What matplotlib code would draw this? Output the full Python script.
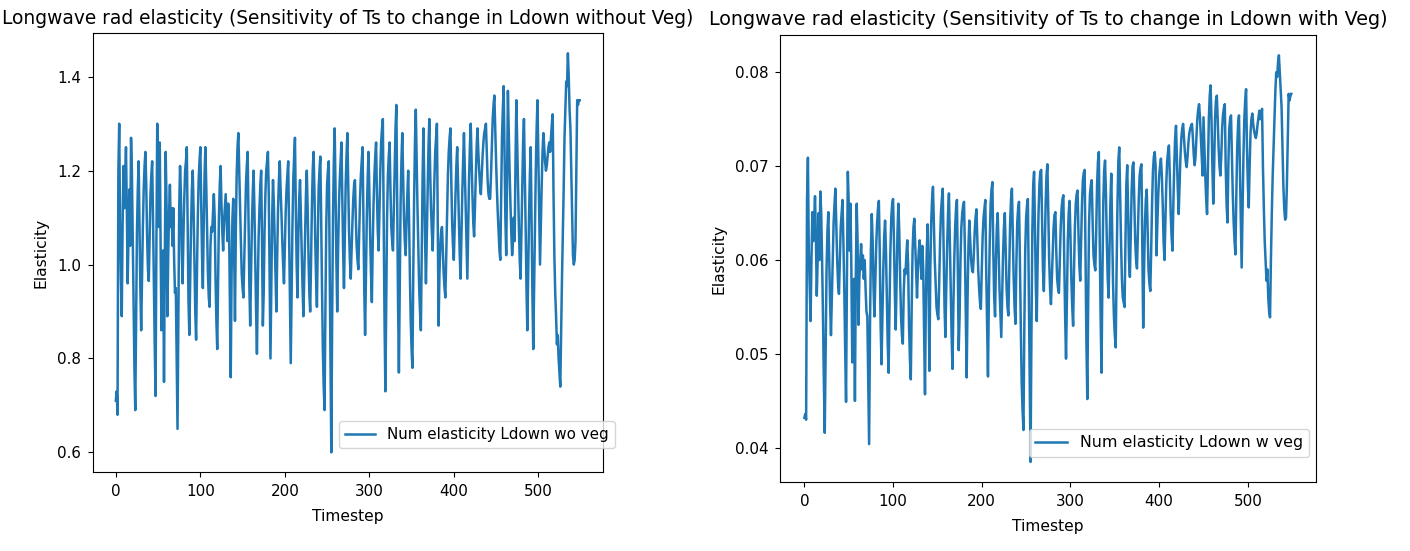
#!/usr/bin/env python3

"""
Longwave radiation elasticity of surface temperature (Ts) with respect to
downwelling longwave (Ldown), with and without vegetation.
"""

import numpy as np
from matplotlib import pyplot as plt

# numerical elasticity, no vegetation (one value per timestep)
elasticity_wo_veg = [
    0.71, 0.73, 0.68, 1.20, 1.30, 1.09, 0.97, 0.89, 1.08, 1.21,
    1.12, 1.18, 1.25, 1.12, 0.96, 1.06, 1.16, 1.04, 1.27, 1.20,
    1.06, 0.92, 0.78, 0.69, 0.88, 1.07, 1.16, 1.22, 1.08, 0.95,
    0.86, 0.97, 1.08, 1.16, 1.21, 1.24, 1.17, 1.06, 0.99, 0.965,
    1.06, 1.15, 1.19, 1.22, 1.10, 0.96, 0.83, 0.72, 1.04, 1.30,
    1.21, 1.08, 1.26, 1.04, 0.86, 0.95, 1.03, 0.75, 1.02, 1.24,
    1.13, 0.89, 1.02, 1.11, 1.17, 1.08, 1.12, 1.04, 1.12, 1.01,
    0.94, 0.95, 0.80, 0.65, 0.90, 1.12, 1.21, 1.15, 1.03, 0.96,
    1.06, 1.14, 1.20, 1.22, 1.25, 1.09, 0.92, 0.85, 0.97, 1.08,
    1.16, 1.20, 1.12, 1.01, 0.90, 0.84, 0.98, 1.10, 1.18, 1.22,
    1.25, 1.13, 1.02, 0.95, 1.08, 1.19, 1.25, 1.17, 1.07, 0.98,
    0.93, 0.91, 1.04, 1.08, 1.07, 1.11, 1.15, 1.10, 0.97, 0.88,
    0.82, 0.96, 1.10, 1.17, 1.21, 1.13, 1.07, 1.03, 1.09, 1.12,
    1.15, 1.10, 1.05, 1.13, 1.08, 0.92, 0.76, 0.98, 1.10, 1.14,
    1.03, 0.88, 1.07, 1.19, 1.25, 1.28, 1.20, 1.12, 1.05, 0.98,
    0.95, 0.93, 1.01, 1.10, 1.17, 1.21, 1.24, 1.10, 0.96, 0.87,
    0.98, 1.08, 1.15, 1.20, 1.12, 1.01, 0.90, 0.81, 0.95, 1.06,
    1.12, 1.17, 1.20, 1.05, 0.87, 0.94, 1.07, 1.15, 1.20, 1.22,
    1.24, 1.15, 0.98, 0.80, 0.96, 1.10, 1.18, 1.13, 1.05, 0.97,
    0.90, 1.02, 1.12, 1.18, 1.22, 1.16, 1.11, 1.05, 1.00, 0.96,
    1.04, 1.11, 1.16, 1.19, 1.22, 1.08, 0.93, 0.79, 0.93, 1.08,
    1.18, 1.23, 1.27, 1.12, 1.00, 0.93, 1.06, 1.14, 1.18, 1.10,
    1.03, 0.95, 0.89, 0.98, 1.08, 1.15, 1.20, 1.12, 1.02, 0.94,
    0.90, 1.00, 1.12, 1.20, 1.24, 1.16, 1.05, 0.97, 0.91, 1.05,
    1.16, 1.20, 1.23, 1.10, 0.95, 0.82, 0.74, 0.69, 0.90, 1.08,
    1.17, 1.20, 1.22, 1.02, 0.80, 0.60, 0.88, 1.10, 1.22, 1.29,
    1.16, 1.01, 0.90, 1.03, 1.12, 1.18, 1.22, 1.26, 1.14, 1.03,
    0.95, 1.06, 1.17, 1.23, 1.28, 1.18, 1.07, 1.01, 0.97, 1.03,
    1.09, 1.14, 1.17, 1.18, 1.10, 1.04, 1.01, 0.99, 1.07, 1.14,
    1.19, 1.22, 1.25, 1.10, 0.95, 0.85, 0.98, 1.10, 1.18, 1.24,
    1.16, 1.06, 0.98, 0.92, 1.04, 1.13, 1.19, 1.23, 1.26, 1.15,
    1.07, 1.03, 1.12, 1.20, 1.26, 1.29, 1.31, 1.08, 0.88, 0.73,
    0.92, 1.10, 1.19, 1.23, 1.26, 1.16, 1.08, 1.05, 1.03, 1.12,
    1.22, 1.29, 1.34, 1.12, 0.92, 0.77, 0.96, 1.13, 1.22, 1.28,
    1.19, 1.10, 1.05, 1.02, 1.09, 1.15, 1.20, 1.10, 0.98, 0.88,
    0.82, 0.78, 0.98, 1.14, 1.26, 1.33, 1.22, 1.12, 1.03, 0.95,
    0.90, 0.86, 1.02, 1.18, 1.29, 1.18, 1.05, 0.96, 1.06, 1.17,
    1.25, 1.31, 1.20, 1.12, 1.07, 1.03, 1.10, 1.18, 1.24, 1.27,
    1.30, 1.08, 0.87, 0.98, 1.04, 1.07, 1.08, 1.03, 0.98, 0.95,
    0.93, 1.02, 1.12, 1.19, 1.24, 1.27, 1.29, 1.18, 1.09, 1.04,
    1.01, 1.08, 1.15, 1.21, 1.25, 1.17, 1.09, 1.02, 0.97, 1.06,
    1.15, 1.22, 1.28, 1.20, 1.11, 1.03, 0.97, 1.08, 1.18, 1.25,
    1.30, 1.22, 1.15, 1.09, 1.06, 1.12, 1.19, 1.25, 1.29, 1.24,
    1.20, 1.17, 1.15, 1.19, 1.23, 1.26, 1.28, 1.29, 1.30, 1.24,
    1.18, 1.15, 1.14, 1.14, 1.19, 1.25, 1.31, 1.34, 1.36, 1.29,
    1.22, 1.16, 1.11, 1.07, 1.03, 1.01, 1.14, 1.27, 1.33, 1.38,
    1.24, 1.10, 1.02, 1.18, 1.37, 1.28, 1.20, 1.13, 1.07, 1.02,
    1.05, 1.10, 1.05, 1.22, 1.35, 1.26, 1.17, 1.08, 1.01, 0.97,
    1.07, 1.18, 1.26, 1.31, 1.20, 1.08, 0.95, 0.86, 0.98, 1.10,
    1.19, 1.25, 1.10, 0.94, 0.82, 0.95, 1.09, 1.20, 1.29, 1.35,
    1.23, 1.10, 1.00, 1.09, 1.17, 1.24, 1.28, 1.25, 1.22, 1.20,
    1.21, 1.23, 1.25, 1.26, 1.24, 1.27, 1.30, 1.32, 1.15, 1.02,
    0.94, 0.89, 0.83, 0.85, 0.80, 0.77, 0.74, 0.86, 0.97, 1.06,
    1.16, 1.27, 1.33, 1.39, 1.38, 1.45, 1.40, 1.33, 1.29, 1.20,
    1.10, 1.02, 1.00, 1.01, 1.05, 1.20, 1.35, 1.34, 1.35, 1.35,
]

# numerical elasticity, with vegetation
elasticity_w_veg = [
    0.0432, 0.0436, 0.0430, 0.0664, 0.0709, 0.0610, 0.0570, 0.0535, 0.0600, 0.0651,
    0.0620, 0.0640, 0.0668, 0.0625, 0.0562, 0.0600, 0.0650, 0.0600, 0.0673, 0.0650,
    0.0600, 0.0540, 0.0470, 0.0416, 0.0500, 0.0590, 0.0630, 0.0651, 0.0600, 0.0555,
    0.0520, 0.0560, 0.0605, 0.0640, 0.0660, 0.0676, 0.0640, 0.0600, 0.0575, 0.0564,
    0.0600, 0.0635, 0.0650, 0.0664, 0.0620, 0.0570, 0.0505, 0.0449, 0.0580, 0.0694,
    0.0660, 0.0610, 0.0660, 0.0590, 0.0491, 0.0540, 0.0580, 0.0450, 0.0580, 0.0660,
    0.0620, 0.0531, 0.0580, 0.0600, 0.0617, 0.0590, 0.0605, 0.0580, 0.0600, 0.0570,
    0.0545, 0.0540, 0.0470, 0.0404, 0.0530, 0.0610, 0.0649, 0.0620, 0.0570, 0.0540,
    0.0580, 0.0615, 0.0640, 0.0655, 0.0663, 0.0610, 0.0530, 0.0489, 0.0540, 0.0590,
    0.0625, 0.0642, 0.0610, 0.0560, 0.0510, 0.0480, 0.0550, 0.0610, 0.0645, 0.0660,
    0.0665, 0.0620, 0.0565, 0.0526, 0.0580, 0.0630, 0.0660, 0.0630, 0.0580, 0.0540,
    0.0520, 0.0511, 0.0565, 0.0590, 0.0585, 0.0605, 0.0621, 0.0595, 0.0530, 0.0495,
    0.0473, 0.0550, 0.0610, 0.0635, 0.0644, 0.0615, 0.0590, 0.0560, 0.0590, 0.0610,
    0.0621, 0.0600, 0.0580, 0.0615, 0.0590, 0.0520, 0.0457, 0.0560, 0.0610, 0.0638,
    0.0570, 0.0482, 0.0590, 0.0640, 0.0665, 0.0678, 0.0640, 0.0600, 0.0575, 0.0550,
    0.0542, 0.0537, 0.0575, 0.0620, 0.0650, 0.0665, 0.0676, 0.0610, 0.0550, 0.0518,
    0.0570, 0.0615, 0.0650, 0.0671, 0.0620, 0.0570, 0.0520, 0.0484, 0.0550, 0.0600,
    0.0635, 0.0655, 0.0664, 0.0590, 0.0504, 0.0540, 0.0600, 0.0635, 0.0650, 0.0658,
    0.0662, 0.0610, 0.0540, 0.0475, 0.0560, 0.0615, 0.0642, 0.0620, 0.0600, 0.0590,
    0.0587, 0.0605, 0.0630, 0.0645, 0.0654, 0.0620, 0.0590, 0.0570, 0.0555, 0.0548,
    0.0590, 0.0625, 0.0645, 0.0655, 0.0664, 0.0590, 0.0530, 0.0476, 0.0560, 0.0620,
    0.0660, 0.0675, 0.0683, 0.0610, 0.0560, 0.0540, 0.0600, 0.0635, 0.0650, 0.0610,
    0.0570, 0.0545, 0.0518, 0.0560, 0.0605, 0.0635, 0.0650, 0.0610, 0.0570, 0.0550,
    0.0541, 0.0590, 0.0640, 0.0665, 0.0676, 0.0630, 0.0580, 0.0550, 0.0532, 0.0595,
    0.0640, 0.0655, 0.0662, 0.0600, 0.0530, 0.0470, 0.0440, 0.0419, 0.0530, 0.0610,
    0.0645, 0.0658, 0.0665, 0.0570, 0.0470, 0.0385, 0.0520, 0.0630, 0.0680, 0.0694,
    0.0630, 0.0570, 0.0535, 0.0600, 0.0650, 0.0680, 0.0694, 0.0696, 0.0640, 0.0590,
    0.0567, 0.0610, 0.0660, 0.0690, 0.0702, 0.0650, 0.0600, 0.0570, 0.0553, 0.0580,
    0.0610, 0.0635, 0.0648, 0.0651, 0.0610, 0.0580, 0.0570, 0.0565, 0.0600, 0.0635,
    0.0655, 0.0665, 0.0669, 0.0600, 0.0540, 0.0495, 0.0560, 0.0620, 0.0650, 0.0663,
    0.0625, 0.0580, 0.0550, 0.0530, 0.0590, 0.0635, 0.0660, 0.0670, 0.0674, 0.0630,
    0.0595, 0.0578, 0.0620, 0.0660, 0.0685, 0.0693, 0.0696, 0.0600, 0.0510, 0.0452,
    0.0560, 0.0640, 0.0670, 0.0680, 0.0685, 0.0640, 0.0605, 0.0595, 0.0589, 0.0630,
    0.0680, 0.0705, 0.0715, 0.0620, 0.0540, 0.0480, 0.0580, 0.0660, 0.0695, 0.0706,
    0.0670, 0.0620, 0.0580, 0.0560, 0.0610, 0.0660, 0.0692, 0.0630, 0.0575, 0.0540,
    0.0520, 0.0507, 0.0590, 0.0660, 0.0705, 0.0720, 0.0670, 0.0620, 0.0580, 0.0560,
    0.0555, 0.0550, 0.0620, 0.0680, 0.0701, 0.0650, 0.0600, 0.0582, 0.0630, 0.0675,
    0.0700, 0.0704, 0.0660, 0.0620, 0.0600, 0.0591, 0.0630, 0.0665, 0.0690, 0.0698,
    0.0702, 0.0610, 0.0528, 0.0590, 0.0640, 0.0665, 0.0675, 0.0630, 0.0590, 0.0575,
    0.0567, 0.0610, 0.0660, 0.0695, 0.0710, 0.0715, 0.0700, 0.0605, 0.0640, 0.0670,
    0.0690, 0.0700, 0.0708, 0.0690, 0.0660, 0.0620, 0.0600, 0.0640, 0.0680, 0.0705,
    0.0715, 0.0722, 0.0690, 0.0650, 0.0625, 0.0610, 0.0660, 0.0700, 0.0730, 0.0743,
    0.0710, 0.0675, 0.0649, 0.0680, 0.0710, 0.0730, 0.0740, 0.0745, 0.0730, 0.0715,
    0.0705, 0.0699, 0.0710, 0.0725, 0.0735, 0.0740, 0.0743, 0.0745, 0.0730, 0.0712,
    0.0701, 0.0710, 0.0730, 0.0750, 0.0760, 0.0766, 0.0752, 0.0730, 0.0710, 0.0690,
    0.0752, 0.0720, 0.0690, 0.0665, 0.0649, 0.0700, 0.0750, 0.0775, 0.0786, 0.0750,
    0.0700, 0.0660, 0.0700, 0.0750, 0.0770, 0.0775, 0.0750, 0.0720, 0.0700, 0.0690,
    0.0710, 0.0740, 0.0755, 0.0762, 0.0766, 0.0700, 0.0660, 0.0640, 0.0700, 0.0740,
    0.0750, 0.0754, 0.0710, 0.0670, 0.0640, 0.0620, 0.0606, 0.0670, 0.0720, 0.0745,
    0.0754, 0.0700, 0.0640, 0.0592, 0.0650, 0.0710, 0.0750, 0.0770, 0.0782, 0.0720,
    0.0680, 0.0656, 0.0700, 0.0735, 0.0750, 0.0756, 0.0745, 0.0738, 0.0733, 0.0730,
    0.0735, 0.0745, 0.0752, 0.0759, 0.0750, 0.0755, 0.0761, 0.0700, 0.0656, 0.0620,
    0.0600, 0.0578, 0.0590, 0.0560, 0.0545, 0.0539, 0.0600, 0.0650, 0.0690, 0.0720,
    0.0750, 0.0780, 0.0800, 0.0795, 0.0810, 0.0818, 0.0800, 0.0780, 0.0763, 0.0720,
    0.0680, 0.0655, 0.0643, 0.0645, 0.0680, 0.0730, 0.0777, 0.0770, 0.0775, 0.0777,
]

titles = [
    "Longwave rad elasticity (Sensitivity of Ts to change in Ldown without Veg)",
    "Longwave rad elasticity (Sensitivity of Ts to change in Ldown with Veg)",
]
labels = ["Num elasticity Ldown wo veg", "Num elasticity Ldown w veg"]

fig = plt.figure(figsize=(14.10, 5.51), dpi=100)

# two panels placed by hand (left, bottom, width, height in figure fraction)
ax_wo = fig.add_axes([0.0657, 0.1428, 0.3619, 0.7967])
ax_w = fig.add_axes([0.5532, 0.1247, 0.3799, 0.8118])

panels = [
    (ax_wo, elasticity_wo_veg, titles[0], labels[0], 13.4, 10.9, (1.0235, 0.0547)),
    (ax_w, elasticity_w_veg, titles[1], labels[1], 13.8, 11.4, (0.9875, 0.0572)),
]

for ax, values, title, label, title_size, legend_size, anchor in panels:
    timesteps = np.arange(len(values))
    ax.plot(timesteps, values, color="#1f77b4", linewidth=1.8, label=label)
    ax.set_title(title, fontsize=title_size, pad=7)
    ax.set_xlabel("Timestep", fontsize=11.2, labelpad=7)
    ax.set_ylabel("Elasticity", fontsize=11.2, labelpad=6)
    ax.tick_params(labelsize=10.9, pad=5)
    ax.set_xticks([0, 100, 200, 300, 400, 500])
    ax.legend(
        loc="lower right",
        bbox_to_anchor=anchor,
        borderaxespad=0,
        fontsize=legend_size,
    )

ax_wo.set_yticks([0.6, 0.8, 1.0, 1.2, 1.4])
ax_w.set_yticks([0.04, 0.05, 0.06, 0.07, 0.08])

fig.savefig("out.png", dpi=100)
